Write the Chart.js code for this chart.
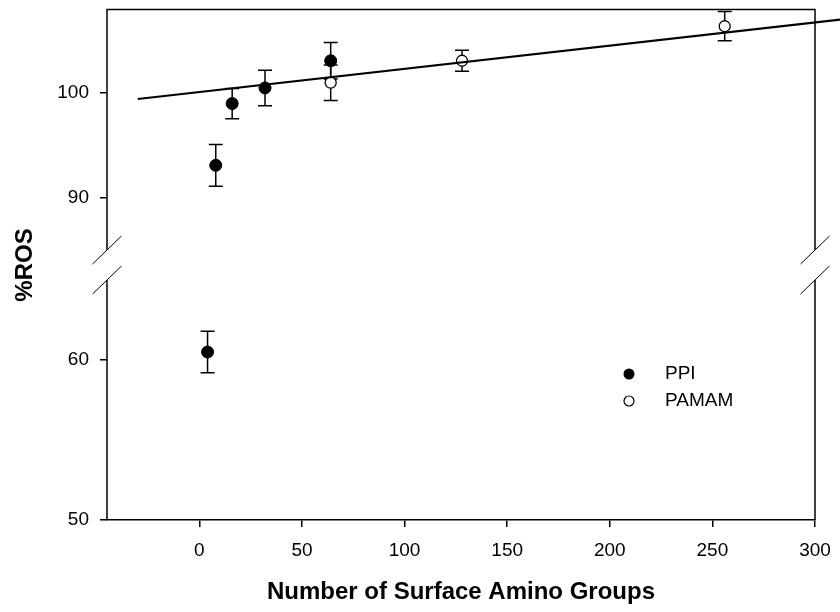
<!DOCTYPE html>
<html lang="en">
<head>
<meta charset="UTF-8">
<title>%ROS vs Number of Surface Amino Groups</title>
<script src="https://cdn.jsdelivr.net/npm/chart.js"></script>
<style>
  body { margin: 0; background: #fff; }
  #wrap { width: 840px; height: 612px; }
</style>
</head>
<body>
<div id="wrap"><canvas id="chart" width="840" height="612"></canvas></div>
<script>
// data
const ppiX = [4, 8, 16, 32, 64];
const ppiY = [60.5, 93.1, 99.0, 100.5, 103.1];
const ppiErr = [1.3, 2.0, 1.45, 1.7, 1.75];

const pamamX = [64, 128, 256];
const pamamY = [101.0, 103.1, 106.4];
const pamamErr = [1.7, 1.0, 1.4];

// regression line end points
const fitX = [-30, 313];
const fitY = [99.43, 107.05];

const xTicks = [0, 50, 100, 150, 200, 250, 300];
const yTicksTop = [90, 100];
const yTicksBottom = [50, 60];

// broken y axis: upper part 85..108, lower part 50..65
const topMin = 85, topMax = 108;
const botMin = 50, botMax = 65;

const FONT = '"Liberation Sans", Arial, sans-serif';

function split(xs, ys, errs, upper) {
  const out = [];
  xs.forEach((x, i) => {
    if ((ys[i] >= topMin) === upper) out.push({ x: x, y: ys[i], err: errs[i] });
  });
  return out;
}

const ppiStyle = {
  showLine: false,
  pointRadius: 6,
  pointHoverRadius: 6,
  pointBackgroundColor: '#000',
  pointBorderColor: '#000',
  pointBorderWidth: 1
};
const pamamStyle = {
  showLine: false,
  pointRadius: 5.5,
  pointHoverRadius: 5.5,
  pointBackgroundColor: '#fff',
  pointBorderColor: '#000',
  pointBorderWidth: 1.3
};

const datasets = [
  {
    label: 'fit',
    data: fitX.map((x, i) => ({ x: x, y: fitY[i] })),
    yAxisID: 'yTop',
    showLine: true,
    borderColor: '#000',
    borderWidth: 2,
    pointRadius: 0,
    clip: false
  },
  Object.assign({ label: 'PAMAM', data: split(pamamX, pamamY, pamamErr, true), yAxisID: 'yTop' }, pamamStyle),
  Object.assign({ label: 'PPI', data: split(ppiX, ppiY, ppiErr, true), yAxisID: 'yTop' }, ppiStyle),
  Object.assign({ label: 'PPI low', data: split(ppiX, ppiY, ppiErr, false), yAxisID: 'yBot' }, ppiStyle)
];

// error bars under the markers
const errorBars = {
  id: 'errorBars',
  beforeDatasetsDraw(chart) {
    const ctx = chart.ctx;
    const xs = chart.scales.x;
    ctx.save();
    ctx.strokeStyle = '#000';
    ctx.lineWidth = 1.5;
    chart.data.datasets.forEach(ds => {
      const ys = chart.scales[ds.yAxisID];
      ds.data.forEach(p => {
        if (p.err === undefined) return;
        const px = xs.getPixelForValue(p.x);
        const y1 = ys.getPixelForValue(p.y + p.err);
        const y2 = ys.getPixelForValue(p.y - p.err);
        ctx.beginPath();
        ctx.moveTo(px, y1); ctx.lineTo(px, y2);
        ctx.moveTo(px - 7, y1); ctx.lineTo(px + 7, y1);
        ctx.moveTo(px - 7, y2); ctx.lineTo(px + 7, y2);
        ctx.stroke();
      });
    });
    ctx.restore();
  }
};

// frame with axis breaks, y title and legend
const frame = {
  id: 'frame',
  afterDraw(chart) {
    const ctx = chart.ctx;
    const a = chart.chartArea;
    const yt = chart.scales.yTop, yb = chart.scales.yBot;
    const gapTop = yt.getPixelForValue(topMin);
    const gapBot = yb.getPixelForValue(botMax);
    ctx.save();
    ctx.strokeStyle = '#000';
    ctx.lineWidth = 1.5;
    ctx.beginPath();
    ctx.moveTo(a.left, gapTop); ctx.lineTo(a.left, a.top); ctx.lineTo(a.right, a.top); ctx.lineTo(a.right, gapTop);
    ctx.moveTo(a.left, gapBot); ctx.lineTo(a.left, a.bottom);
    ctx.moveTo(a.right, gapBot); ctx.lineTo(a.right, a.bottom);
    ctx.stroke();

    ctx.lineWidth = 1;
    [a.left, a.right].forEach(ax => {
      [gapTop, gapBot].forEach(gy => {
        ctx.beginPath();
        ctx.moveTo(ax - 14.5, gy + 14);
        ctx.lineTo(ax + 14.5, gy - 14);
        ctx.stroke();
      });
    });

    // y title
    ctx.fillStyle = '#000';
    ctx.font = 'bold 24px ' + FONT;
    ctx.textAlign = 'center';
    ctx.textBaseline = 'middle';
    ctx.translate(25, (gapTop + gapBot) / 2);
    ctx.rotate(-Math.PI / 2);
    ctx.fillText('%ROS', 0, 0);
    ctx.setTransform(1, 0, 0, 1, 0, 0);

    // legend
    ctx.font = '19px ' + FONT;
    ctx.textAlign = 'left';
    ctx.beginPath();
    ctx.arc(629, 374, 5.5, 0, Math.PI * 2);
    ctx.fillStyle = '#000';
    ctx.fill();
    ctx.fillText('PPI', 665, 374);
    ctx.beginPath();
    ctx.arc(629, 401, 5, 0, Math.PI * 2);
    ctx.fillStyle = '#fff';
    ctx.fill();
    ctx.lineWidth = 1.2;
    ctx.stroke();
    ctx.fillStyle = '#000';
    ctx.fillText('PAMAM', 665, 401);
    ctx.restore();
  }
};

function noPad(s) {
  s.paddingTop = 0; s.paddingBottom = 0; s.paddingLeft = 0; s.paddingRight = 0;
}

const yCommon = {
  type: 'linear',
  position: 'left',
  stack: 'y',
  border: { display: false },
  grid: { drawOnChartArea: false, drawTicks: true, tickLength: 7, color: '#000', lineWidth: 1.5 },
  ticks: { color: '#000', padding: 11, font: { family: FONT, size: 19 } },
  afterFit(s) { s.width = 107; noPad(s); }
};

new Chart(document.getElementById('chart'), {
  type: 'scatter',
  data: { datasets: datasets },
  plugins: [errorBars, frame],
  options: {
    responsive: false,
    animation: false,
    events: [],
    layout: { padding: { top: 9.5, right: 25, bottom: 0, left: 0 } },
    plugins: { legend: { display: false }, tooltip: { enabled: false } },
    scales: {
      x: {
        type: 'linear',
        min: -45,
        max: 300,
        border: { display: true, color: '#000', width: 1.5 },
        grid: { drawOnChartArea: false, drawTicks: true, tickLength: 7, color: '#000', lineWidth: 1.5 },
        ticks: { color: '#000', padding: 12, maxRotation: 0, font: { family: FONT, size: 19 } },
        afterBuildTicks(s) { s.ticks = xTicks.map(v => ({ value: v })); },
        afterFit(s) { s.height = 92; noPad(s); },
        title: {
          display: true,
          text: 'Number of Surface Amino Groups',
          color: '#000',
          font: { family: FONT, size: 24, weight: 'bold' },
          padding: { top: 0, bottom: 5 }
        }
      },
      yBot: Object.assign({}, yCommon, {
        min: botMin,
        // lower part also holds the gap of the break
        max: botMax + 1.875,
        stackWeight: 270,
        weight: 0,
        afterBuildTicks(s) { s.ticks = yTicksBottom.map(v => ({ value: v })); }
      }),
      yTop: Object.assign({}, yCommon, {
        min: topMin,
        max: topMax,
        stackWeight: 240.5,
        weight: 1,
        afterBuildTicks(s) { s.ticks = yTicksTop.map(v => ({ value: v })); }
      })
    }
  }
});
</script>
</body>
</html>
